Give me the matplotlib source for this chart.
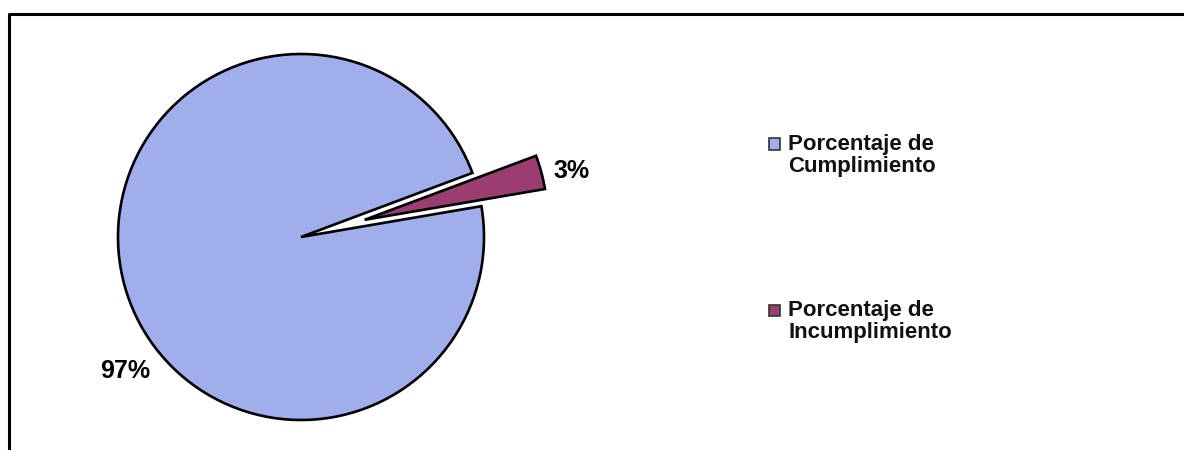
import matplotlib
matplotlib.use("Agg")
import matplotlib.pyplot as plt
from matplotlib.lines import Line2D
from matplotlib.patches import Rectangle

# data
labels = ["Porcentaje de\nCumplimiento", "Porcentaje de\nIncumplimiento"]
values = [97, 3]
pct_text = ["97%", "3%"]
colors = ["#a1aeec", "#9a3e72"]

W, H = 1184, 450
plt.rcParams["font.family"] = ["Liberation Sans", "DejaVu Sans"]

fig = plt.figure(figsize=(W / 100, H / 100), dpi=100)
ax = fig.add_axes([0, 0, 1, 1])

# pie geometry in pixels (y from top)
cx, cy, r = 301, 237, 183
ax.pie(
    values,
    colors=colors,
    startangle=20.5,
    counterclock=True,
    explode=[0, 0.36],
    wedgeprops=dict(edgecolor="black", linewidth=1.9),
)
ax.set_xlim(-cx / r, (W - cx) / r)
ax.set_ylim(-(H - cy) / r, cy / r)
ax.set_aspect("auto")
ax.axis("off")


def fx(px):
    return px / W


def fy(py):
    return 1 - py / H


# percentage labels
label_pos = [(125, 371), (572, 171)]
for txt, (px, py) in zip(pct_text, label_pos):
    fig.text(fx(px), fy(py), txt, fontsize=18, fontweight="bold",
             ha="center", va="center")

# legend drawn by hand so the key sits on the first text line
legend_rows = [145, 311]
for lab, col, py in zip(labels, colors, legend_rows):
    fig.patches.append(Rectangle((fx(769), fy(py + 4.5)), 11 / W, 11 / H,
                                 transform=fig.transFigure, facecolor=col,
                                 edgecolor="#333333", linewidth=1.2))
    fig.text(fx(788), fy(py - 11), lab, fontsize=16, fontweight="bold",
             ha="left", va="top", linespacing=1.05, color="#111111")

# chart frame (cut off at right and bottom in the scan)
fig.lines.append(Line2D([fx(8.5), fx(8.5), 1.0], [0.0, fy(13.5), fy(13.5)],
                        transform=fig.transFigure, color="black", linewidth=2.2))

fig.savefig("out.png", dpi=100, facecolor="white")
